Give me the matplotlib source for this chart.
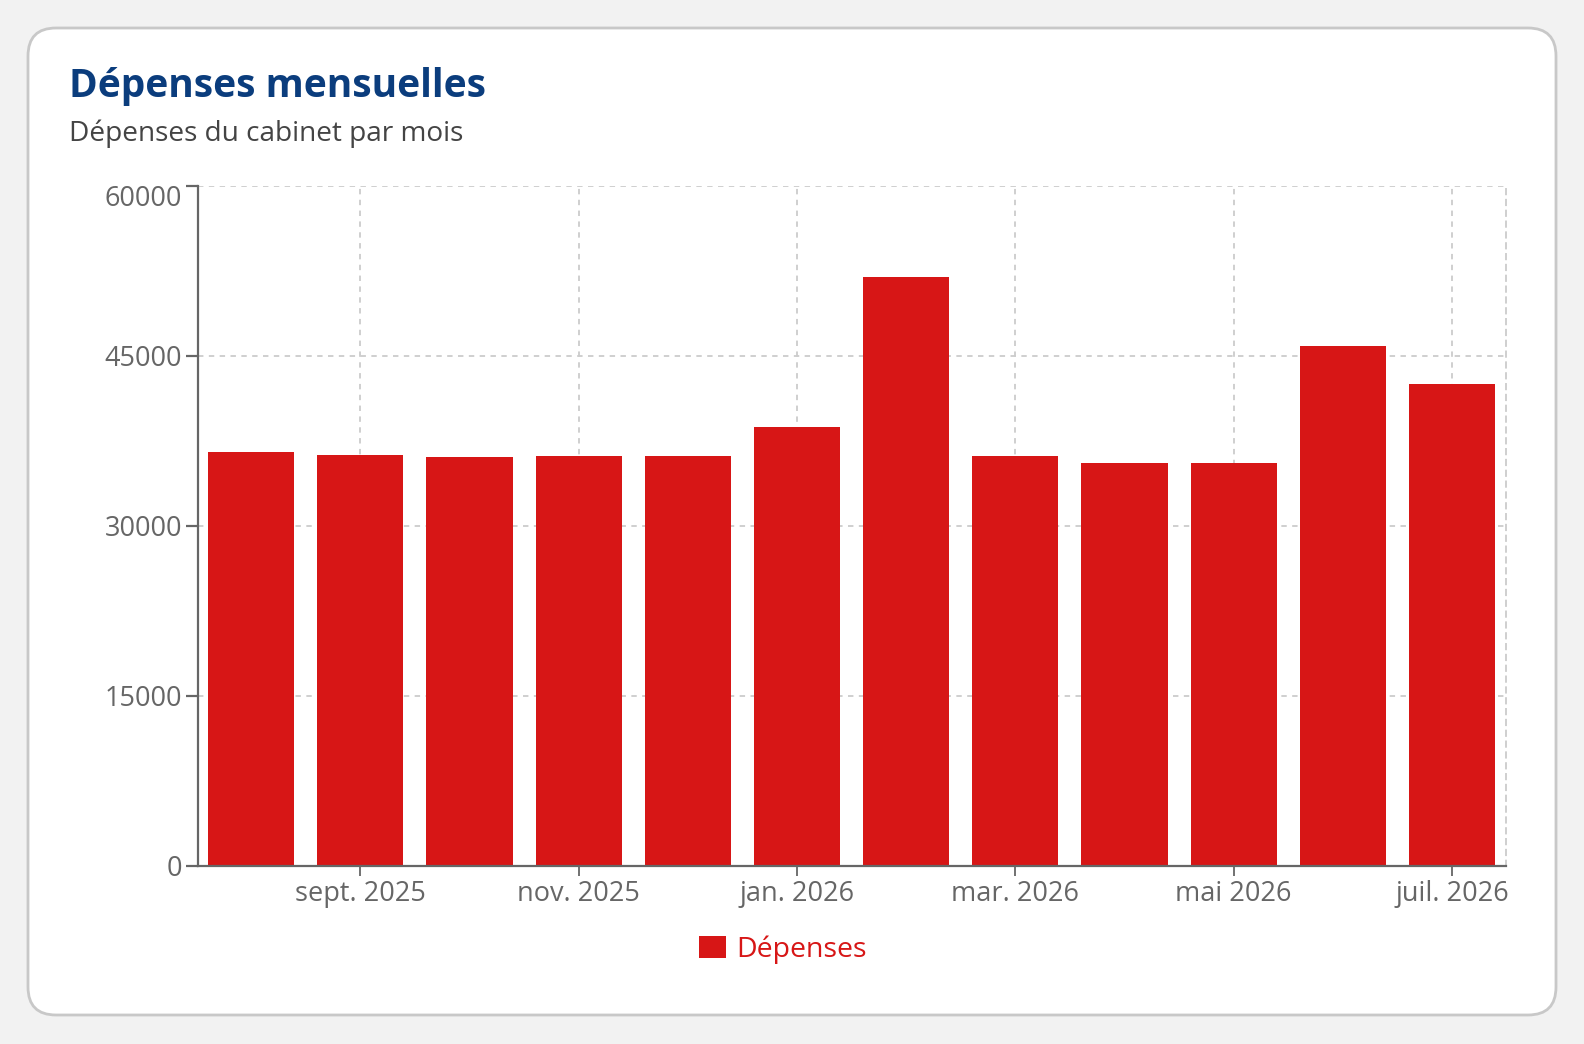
import matplotlib
matplotlib.use("Agg")
import matplotlib.pyplot as plt
import matplotlib.patches as mpatches
import matplotlib.transforms as mtransforms

plt.rcParams['font.family'] = ['Open Sans', 'DejaVu Sans']

# data
mois = ["août 2025", "sept. 2025", "oct. 2025", "nov. 2025", "déc. 2025",
        "jan. 2026", "févr. 2026", "mar. 2026", "avr. 2026", "mai 2026",
        "juin 2026", "juil. 2026"]
depenses = [36500, 36300, 36100, 36150, 36150, 38700,
            52000, 36200, 35550, 35550, 45850, 42500]
tick_labels = ["sept. 2025", "nov. 2025", "jan. 2026",
               "mar. 2026", "mai 2026", "juil. 2026"]
y_ticks = [0, 15000, 30000, 45000, 60000]

W, H = 1584, 1044
fig = plt.figure(figsize=(W / 100, H / 100), dpi=100)
fig.patch.set_facecolor('#f2f2f2')

# card background (pixel coords, origin bottom-left)
card = mpatches.FancyBboxPatch((28, H - 1015), 1528, 987,
                               boxstyle="round,pad=0,rounding_size=28",
                               transform=mtransforms.IdentityTransform(),
                               facecolor='white', edgecolor='#c8c8c8',
                               linewidth=2, zorder=-10)
fig.patches.append(card)

fig.text(69 / W, 1 - 97 / H, "Dépenses mensuelles", fontsize=28,
         fontweight='bold', color='#0b3d7d', ha='left', va='baseline')
fig.text(69 / W, 1 - 141 / H, "Dépenses du cabinet par mois", fontsize=20.2,
         color='#444444', ha='left', va='baseline')

ax = fig.add_axes([198 / W, 1 - 866 / H, (1506 - 198) / W, (866 - 186) / H])
ax.set_facecolor('none')
ax.set_zorder(2)

x = list(range(len(mois)))
bars = ax.bar(x, depenses, width=0.79, color='#d71616', zorder=2,
              label='Dépenses')

ax.set_xlim(-0.487, len(mois) - 0.505)
ax.set_ylim(0, 60000)

ax.set_xticks([mois.index(m) for m in tick_labels])
ax.set_xticklabels(tick_labels)
ax.set_yticks(y_ticks)
ax.set_yticklabels([str(v) for v in y_ticks])

ax.grid(True, color='#cccccc', linestyle=(0, (3, 3)), linewidth=1.3, zorder=1)
ax.set_axisbelow(True)

for s in ['left', 'bottom']:
    ax.spines[s].set_color('#666666')
    ax.spines[s].set_linewidth(1.6)
    ax.spines[s].set_zorder(3)
ax.spines['top'].set_visible(False)
ax.spines['right'].set_color('#cccccc')
ax.spines['right'].set_linestyle((0, (3, 3)))
ax.spines['right'].set_linewidth(1.3)

ax.tick_params(axis='y', length=8.5, width=1.6, color='#666666',
               labelcolor='#666666', labelsize=19.5, pad=3)
ax.tick_params(axis='x', length=7, width=1.3, color='#666666',
               labelcolor='#666666', labelsize=19.5, pad=3)

# top y label sits a little below its tick, as in the original
top_lbl = ax.get_yticklabels()[-1]
top_lbl.set_transform(top_lbl.get_transform() +
                      mtransforms.ScaledTranslation(0, -10 / 100, fig.dpi_scale_trans))

leg = fig.legend(handles=[bars], labels=['Dépenses'], loc='center',
                 bbox_to_anchor=(783 / W, 1 - 950 / H), frameon=False,
                 fontsize=20.5, handlelength=0.95, handleheight=0.8,
                 handletextpad=0.35)
for t in leg.get_texts():
    t.set_color('#d71616')

fig.savefig('out.png', dpi=100, facecolor=fig.get_facecolor())
